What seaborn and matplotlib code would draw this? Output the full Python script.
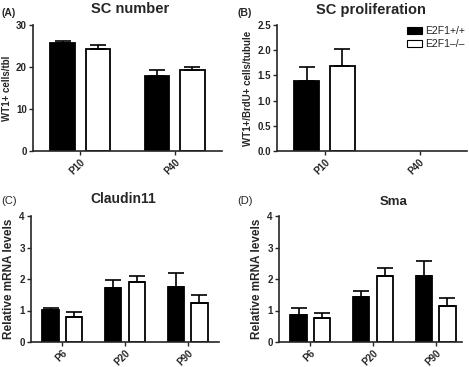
import numpy as np
import pandas as pd
import matplotlib
matplotlib.use('Agg')
import matplotlib.pyplot as plt
import seaborn as sns

# Data
genotypes = ['E2F1+/+', 'E2F1\u2013/\u2013']

sc_groups = ['P10', 'P40']
sc_number_wt = [25.8, 17.8]
sc_number_wt_err = [0.3, 1.4]
sc_number_ko = [24.4, 19.2]
sc_number_ko_err = [0.8, 0.8]

prolif_groups = ['P10']
prolif_wt = [1.38]
prolif_wt_err = [0.28]
prolif_ko = [1.68]
prolif_ko_err = [0.35]

mrna_groups = ['P6', 'P20', 'P90']
claudin_wt = [1.02, 1.73, 1.75]
claudin_wt_err = [0.07, 0.25, 0.43]
claudin_ko = [0.80, 1.92, 1.24]
claudin_ko_err = [0.15, 0.18, 0.25]

sma_wt = [0.85, 1.43, 2.10]
sma_wt_err = [0.23, 0.18, 0.47]
sma_ko = [0.77, 2.08, 1.13]
sma_ko_err = [0.15, 0.28, 0.28]


def make_df(groups, wt, wt_err, ko, ko_err):
    rows = []
    for g, v, e in zip(groups, wt, wt_err):
        rows.append({'group': g, 'genotype': genotypes[0], 'value': v, 'err': e})
    for g, v, e in zip(groups, ko, ko_err):
        rows.append({'group': g, 'genotype': genotypes[1], 'value': v, 'err': e})
    return pd.DataFrame(rows)


sns.set_style('ticks')
plt.rcParams['font.family'] = ['Liberation Sans', 'DejaVu Sans']

W, H = 469, 367
fig = plt.figure(figsize=(W / 100, H / 100), dpi=100)


def axes_px(left, right, top, bottom):
    return fig.add_axes([left / W, 1 - bottom / H, (right - left) / W, (bottom - top) / H])


palette = {genotypes[0]: 'black', genotypes[1]: 'white'}


def draw_panel(ax, df, order, ylim, yticks, ylabel, xlim, tick_fs, ylabel_fs, legend=False):
    sns.barplot(data=df, x='group', y='value', hue='genotype', order=order,
                hue_order=genotypes, palette=palette, edgecolor='black',
                linewidth=1.3, width=0.75, gap=0.3, errorbar=None,
                legend=legend, ax=ax)
    # one-sided error bars on top of each bar
    for cont, gen in zip(ax.containers, genotypes):
        sub = df[df['genotype'] == gen].set_index('group')
        for bar in cont:
            h = bar.get_height()
            if np.isnan(h):
                continue
            xc = bar.get_x() + bar.get_width() / 2
            g = order[int(round(xc))]
            if g not in sub.index:
                continue
            e = sub.loc[g, 'err']
            ax.errorbar(xc, h, yerr=[[0], [e]], fmt='none', ecolor='black',
                        elinewidth=1.2, capsize=5.5, capthick=1.2, zorder=1)
    ax.set_ylim(*ylim)
    ax.set_xlim(*xlim)
    ax.set_yticks(yticks)
    ax.set_xlabel('')
    ax.set_ylabel(ylabel, fontsize=ylabel_fs, fontweight='bold', labelpad=3)
    sns.despine(ax=ax)
    for s in ['left', 'bottom']:
        ax.spines[s].set_linewidth(1.2)
    ax.tick_params(axis='both', width=1.0, length=3, pad=1.5, labelsize=tick_fs)
    for lab in ax.get_yticklabels():
        lab.set_fontweight('bold')
    for lab in ax.get_xticklabels():
        lab.set_fontweight('bold')
        lab.set_rotation(45)
        lab.set_ha('right')
        lab.set_rotation_mode('anchor')


# (A) SC number
axA = axes_px(33, 222, 25, 151)
draw_panel(axA, make_df(sc_groups, sc_number_wt, sc_number_wt_err, sc_number_ko, sc_number_ko_err),
           sc_groups, (0, 30), [0, 10, 20, 30], 'WT1+ cells/tbl', (-0.5, 1.5), 7, 7)
axA.set_yticklabels(['0', '10', '20', '30'])

# (B) SC proliferation
axB = axes_px(277, 467, 25, 151)
draw_panel(axB, make_df(prolif_groups, prolif_wt, prolif_wt_err, prolif_ko, prolif_ko_err),
           ['P10', 'P40'], (0, 2.5), [0, 0.5, 1.0, 1.5, 2.0, 2.5], 'WT1+/BrdU+ cells/tubule',
           (-0.5, 1.5), 7, 7, legend=True)
axB.set_yticklabels(['0.0', '0.5', '1.0', '1.5', '2.0', '2.5'])
sns.move_legend(axB, loc='upper left', bbox_to_anchor=(407 / W, 1 - 26 / H),
                bbox_transform=fig.transFigure, frameon=False, title=None,
                fontsize=7.5, handlelength=1.4, handleheight=0.65,
                labelspacing=0.3, handletextpad=0.35, borderpad=0, borderaxespad=0)
for p in axB.get_legend().get_patches():
    p.set_linewidth(0.8)

# (C) Claudin11
axC = axes_px(31, 219, 216, 342)
draw_panel(axC, make_df(mrna_groups, claudin_wt, claudin_wt_err, claudin_ko, claudin_ko_err),
           mrna_groups, (0, 4), [0, 1, 2, 3, 4], 'Relative mRNA levels', (-0.5, 2.5), 7, 8.5)

# (D) Sma
axD = axes_px(279, 462, 216, 342)
draw_panel(axD, make_df(mrna_groups, sma_wt, sma_wt_err, sma_ko, sma_ko_err),
           mrna_groups, (0, 4), [0, 1, 2, 3, 4], 'Relative mRNA levels', (-0.5, 2.42), 7, 8.5)

# titles and panel letters
def ftext(x, y, s, **kw):
    fig.text(x / W, 1 - y / H, s, **kw)

ftext(130, 9, 'SC number', ha='center', va='center', fontsize=10.5, fontweight='bold')
ftext(371, 10, 'SC proliferation', ha='center', va='center', fontsize=10.5, fontweight='bold')
ftext(123, 199, 'Claudin11', ha='center', va='center', fontsize=10, fontweight='bold')
ftext(394, 202, 'Sma', ha='center', va='center', fontsize=9.5, fontweight='bold')

ftext(1, 13, '(A)', ha='left', va='center', fontsize=7.5, fontweight='bold')
ftext(237, 13, '(B)', ha='left', va='center', fontsize=7.5, fontweight='bold')
ftext(1, 201, '(C)', ha='left', va='center', fontsize=8)
ftext(237, 201, '(D)', ha='left', va='center', fontsize=8)

fig.savefig('out.png', dpi=100)
